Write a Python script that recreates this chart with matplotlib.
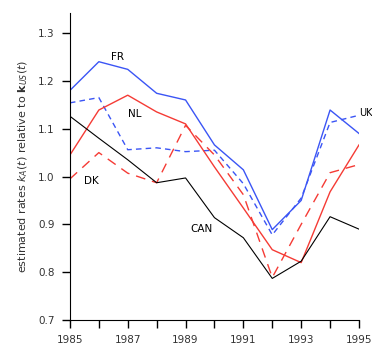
import numpy as np
import matplotlib.pyplot as plt

# anos e taxas estimadas
years = [1985, 1986, 1987, 1988, 1989, 1990, 1991, 1992, 1993, 1994, 1995]
fr  = [1.180, 1.240, 1.224, 1.174, 1.160, 1.066, 1.014, 0.889, 0.950, 1.139, 1.090]
uk  = [1.154, 1.165, 1.056, 1.060, 1.052, 1.055, 0.985, 0.878, 0.955, 1.113, 1.128]
nl  = [1.045, 1.139, 1.170, 1.135, 1.110, 1.020, 0.934, 0.847, 0.820, 0.968, 1.066]
dk  = [0.995, 1.050, 1.007, 0.987, 1.107, 1.045, 0.962, 0.789, 0.900, 1.008, 1.025]
can = [1.126, 1.080, 1.035, 0.987, 0.997, 0.914, 0.872, 0.787, 0.823, 0.916, 0.890]

xticks = [1985, 1987, 1989, 1991, 1993, 1995]
yticks = [0.7, 0.8, 0.9, 1.0, 1.1, 1.2, 1.3]

fig = plt.figure(figsize=(3.72, 3.49), dpi=100)
ax = fig.add_axes([0.188, 0.083, 0.777, 0.880])

ax.plot(years, fr, color="#3b55f5", lw=1)
ax.plot(years, uk, color="#3b55f5", lw=1, ls=(0, (4, 3)))
ax.plot(years, nl, color="#f53b35", lw=1)
ax.plot(years, dk, color="#f53b35", lw=1, ls=(0, (7, 5)))
ax.plot(years, can, color="black", lw=0.8)

# rotulos das series
fs = 7.5
ax.text(1986.65, 1.25, "FR", fontsize=fs, ha="center", va="center")
ax.text(1987.25, 1.13, "NL", fontsize=fs, ha="center", va="center")
ax.text(1985.75, 0.99, "DK", fontsize=fs, ha="center", va="center")
ax.text(1989.55, 0.89, "CAN", fontsize=fs, ha="center", va="center")
ax.text(1995.0, 1.133, "UK", fontsize=7, ha="left", va="center", clip_on=False)

ax.set_xlim(1985, 1995)
ax.set_ylim(0.7, 1.342)
ax.set_xticks(years, minor=True)
ax.set_xticks(xticks)
ax.set_xticklabels([str(x) for x in xticks])
ax.set_yticks(yticks)
ax.set_yticklabels(["%.1f" % y for y in yticks])
ax.tick_params(which="both", direction="out", length=6, width=1, labelsize=7.5,
               labelcolor="#333333", pad=5)

ax.spines['top'].set_visible(False)
ax.spines['right'].set_visible(False)
ax.spines['left'].set_bounds(0.7, 1.342)

ax.set_ylabel(r"estimated rates $k_A(t)$ relative to $\mathbf{k}_{US}(t)$",
              fontsize=8, color="#333333", labelpad=6)

plt.savefig("out.png", dpi=100)
